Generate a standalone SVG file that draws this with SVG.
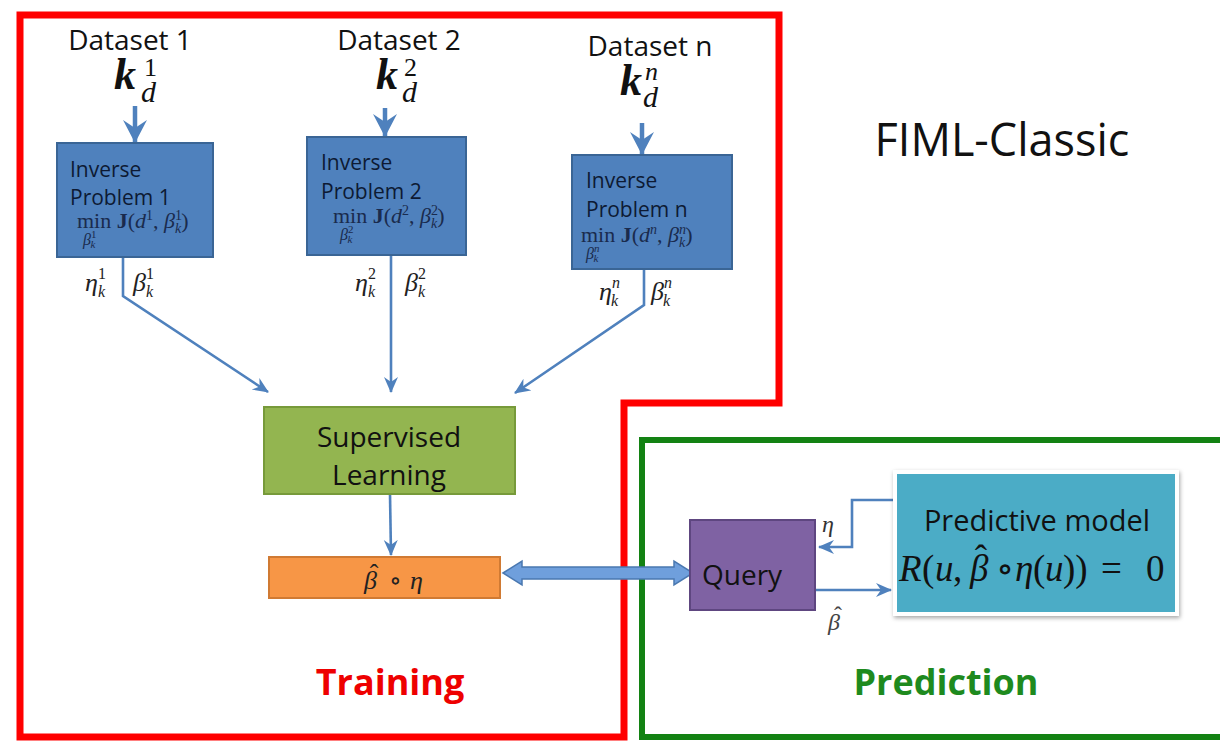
<svg xmlns="http://www.w3.org/2000/svg" width="1220" height="742" viewBox="0 0 1220 742">
<style>
.sans{font-family:"Open Sans",Lato,"Liberation Sans",sans-serif;}
.math{font-family:"Liberation Serif","DejaVu Serif",serif;font-style:italic;}
.mr{font-family:"Liberation Serif","DejaVu Serif",serif;font-style:normal;}
.lbl{font-size:26px;fill:#222;}
.ds{font-size:28px;fill:#111;}
.inv{font-size:21px;fill:#0d1a33;}
.form{font-size:22px;fill:#1a2b4d;}
.conn{fill:none;stroke:#4f81bd;stroke-width:2.6;}
.kin{fill:none;stroke:#4f81bd;stroke-width:4.5;}
.bluebox{fill:#4f81bd;stroke:#3a6595;stroke-width:2;}
.kk{font-size:44px;font-weight:bold;}
</style>
<defs>
<marker id="ah" markerUnits="userSpaceOnUse" markerWidth="18" markerHeight="16" refX="15" refY="8" orient="auto">
<path d="M0,1 L16,8 L0,15 L5,8 z" fill="#4f81bd"/>
</marker>
<marker id="ahk" markerUnits="userSpaceOnUse" markerWidth="26" markerHeight="26" refX="22" refY="13" orient="auto">
<path d="M0,1 L23,13 L0,25 L8,13 z" fill="#4f81bd"/>
</marker>
<filter id="sh" x="-10%" y="-10%" width="120%" height="130%">
<feDropShadow dx="1" dy="2" stdDeviation="2" flood-color="#000" flood-opacity="0.35"/>
</filter>
</defs>
<rect width="1220" height="742" fill="#fff"/>

<g id="training-region">
<path d="M20,15 H779 V403 H624 V737 H20 Z" fill="none" stroke="#ff0000" stroke-width="7"/>
<text class="sans" x="390" y="695" font-size="36" font-weight="bold" fill="#ee0000" text-anchor="middle">Training</text>
</g>
<g id="prediction-region">
<rect x="642" y="440" width="582" height="297" fill="none" stroke="#138213" stroke-width="6"/>
<text class="sans" x="946" y="695" font-size="36" font-weight="bold" fill="#1e8a1e" text-anchor="middle">Prediction</text>
</g>
<g id="title">
<text class="sans" x="1002" y="156" font-size="45" fill="#111" text-anchor="middle">FIML-Classic</text>
</g>

<g id="connectors">
<line class="kin" x1="135" y1="106" x2="135" y2="142" marker-end="url(#ahk)"/>
<line class="kin" x1="385" y1="108" x2="385" y2="136" marker-end="url(#ahk)"/>
<line class="kin" x1="642" y1="123" x2="642" y2="154" marker-end="url(#ahk)"/>
<polyline class="conn" points="123,257 123,296 268,392" marker-end="url(#ah)"/>
<line class="conn" x1="391" y1="255" x2="391" y2="392" marker-end="url(#ah)"/>
<polyline class="conn" points="644,269 644,305 515,393" marker-end="url(#ah)"/>
<line class="conn" x1="390" y1="494" x2="391" y2="555" marker-end="url(#ah)"/>
<polygon points="503,573 522,561 522,567 674,567 674,561 693,573 674,585 674,579 522,579 522,585" fill="#6f9fdc" stroke="#4a78b0" stroke-width="1.5"/>
<polyline class="conn" points="895,500 852,500 852,547 819,547" marker-end="url(#ah)"/>
<line class="conn" x1="815" y1="590" x2="891" y2="590" marker-end="url(#ah)"/>
</g>

<g id="dataset1">
<text class="sans ds" x="130" y="50" text-anchor="middle">Dataset 1</text>
<text fill="#111"><tspan class="math kk" x="114" y="89">k</tspan><tspan class="mr" x="144" y="76" font-size="26">1</tspan><tspan class="math" x="141" y="102" font-size="30">d</tspan></text>
</g>
<g id="dataset2">
<text class="sans ds" x="399" y="50" text-anchor="middle">Dataset 2</text>
<text fill="#111"><tspan class="math kk" x="376" y="89">k</tspan><tspan class="mr" x="404" y="76" font-size="26">2</tspan><tspan class="math" x="402" y="102" font-size="30">d</tspan></text>
</g>
<g id="datasetn">
<text class="sans ds" x="650" y="56" text-anchor="middle">Dataset n</text>
<text fill="#111"><tspan class="math kk" x="620" y="95">k</tspan><tspan class="math" x="645" y="80" font-size="26">n</tspan><tspan class="math" x="643" y="107" font-size="30">d</tspan></text>
</g>

<g id="inverse1">
<rect class="bluebox" x="57" y="143" width="156" height="114"/>
<text class="sans inv" x="70" y="177">Inverse</text>
<text class="sans inv" x="70" y="205">Problem 1</text>
<text class="form" x="77" y="228"><tspan class="mr">min </tspan><tspan class="mr" font-weight="bold">J</tspan><tspan class="mr">(</tspan><tspan class="math">d</tspan><tspan class="mr" font-size="14" dy="-8">1</tspan><tspan class="mr" dy="8">,  </tspan><tspan class="math">β</tspan><tspan class="mr" font-size="14" dy="-8">1</tspan><tspan class="math" font-size="14" dx="-7" dy="13">k</tspan><tspan class="mr" dy="-5">)</tspan><tspan class="math" x="83" y="245" font-size="16">β</tspan><tspan class="mr" font-size="11" dy="-7">1</tspan><tspan class="math" font-size="11" dx="-6" dy="10">k</tspan></text>
<text class="lbl" x="85" y="291"><tspan class="math">η</tspan><tspan class="mr" font-size="16" dy="-12">1</tspan><tspan class="math" font-size="16" dx="-8" dy="18">k</tspan></text>
<text class="lbl" x="133" y="291"><tspan class="math">β</tspan><tspan class="mr" font-size="16" dy="-12">1</tspan><tspan class="math" font-size="16" dx="-8" dy="18">k</tspan></text>
</g>
<g id="inverse2">
<rect class="bluebox" x="307" y="137" width="159" height="118"/>
<text class="sans inv" x="321" y="170">Inverse</text>
<text class="sans inv" x="321" y="199">Problem 2</text>
<text class="form" x="333" y="223"><tspan class="mr">min </tspan><tspan class="mr" font-weight="bold">J</tspan><tspan class="mr">(</tspan><tspan class="math">d</tspan><tspan class="mr" font-size="14" dy="-8">2</tspan><tspan class="mr" dy="8">,  </tspan><tspan class="math">β</tspan><tspan class="mr" font-size="14" dy="-8">2</tspan><tspan class="math" font-size="14" dx="-7" dy="13">k</tspan><tspan class="mr" dy="-5">)</tspan><tspan class="math" x="340" y="240" font-size="16">β</tspan><tspan class="mr" font-size="11" dy="-7">2</tspan><tspan class="math" font-size="11" dx="-6" dy="10">k</tspan></text>
<text class="lbl" x="355" y="291"><tspan class="math">η</tspan><tspan class="mr" font-size="16" dy="-12">2</tspan><tspan class="math" font-size="16" dx="-8" dy="18">k</tspan></text>
<text class="lbl" x="405" y="291"><tspan class="math">β</tspan><tspan class="mr" font-size="16" dy="-12">2</tspan><tspan class="math" font-size="16" dx="-8" dy="18">k</tspan></text>
</g>
<g id="inversen">
<rect class="bluebox" x="572" y="155" width="160" height="114"/>
<text class="sans inv" x="586" y="188">Inverse</text>
<text class="sans inv" x="586" y="217">Problem n</text>
<text class="form" x="581" y="242"><tspan class="mr">min </tspan><tspan class="mr" font-weight="bold">J</tspan><tspan class="mr">(</tspan><tspan class="math">d</tspan><tspan class="math" font-size="14" dy="-8">n</tspan><tspan class="mr" dy="8">,  </tspan><tspan class="math">β</tspan><tspan class="math" font-size="14" dy="-8">n</tspan><tspan class="math" font-size="14" dx="-7" dy="13">k</tspan><tspan class="mr" dy="-5">)</tspan><tspan class="math" x="586" y="259" font-size="16">β</tspan><tspan class="math" font-size="11" dy="-7">n</tspan><tspan class="math" font-size="11" dx="-6" dy="10">k</tspan></text>
<text class="lbl" x="599" y="300"><tspan class="math">η</tspan><tspan class="math" font-size="16" dy="-12">n</tspan><tspan class="math" font-size="16" dx="-9" dy="18">k</tspan></text>
<text class="lbl" x="651" y="300"><tspan class="math">β</tspan><tspan class="math" font-size="16" dy="-12">n</tspan><tspan class="math" font-size="16" dx="-9" dy="18">k</tspan></text>
</g>

<g id="supervised">
<rect x="264" y="407" width="251" height="87" fill="#93b550" stroke="#779a3a" stroke-width="2"/>
<text class="sans" x="389" y="447" font-size="28" fill="#111" text-anchor="middle">Supervised</text>
<text class="sans" x="389" y="485" font-size="28" fill="#111" text-anchor="middle">Learning</text>
</g>
<g id="composite">
<rect x="269" y="557" width="231" height="41" fill="#f79646" stroke="#d07a33" stroke-width="2"/>
<text font-size="26" fill="#222"><tspan class="math" x="364" y="589">β</tspan><tspan class="mr" x="374" y="582" text-anchor="middle">ˆ</tspan><tspan class="mr" x="389" y="589">∘</tspan><tspan class="math" x="410" y="589">η</tspan></text>
</g>
<g id="query">
<rect x="690" y="520" width="125" height="90" fill="#7f62a3" stroke="#5e4680" stroke-width="2"/>
<text class="sans" x="702" y="585" font-size="28" fill="#111">Query</text>
<text class="math" x="822" y="532" font-size="24" fill="#333">η</text>
<text font-size="24" fill="#444"><tspan class="math" x="828" y="630">β</tspan><tspan class="mr" x="838" y="623" text-anchor="middle">ˆ</tspan></text>
</g>
<g id="predictive">
<rect x="893" y="470" width="286" height="146" fill="#fff" filter="url(#sh)"/>
<rect x="897" y="474" width="278" height="138" fill="#4bacc6"/>
<text class="sans" x="1037" y="531" font-size="29" fill="#111" text-anchor="middle">Predictive model</text>
<text y="581" font-size="37" fill="#111"><tspan class="math" x="899">R</tspan><tspan class="mr" x="922">(</tspan><tspan class="math" x="935">u</tspan><tspan class="mr" x="953">,</tspan><tspan class="math" x="970">β</tspan><tspan class="mr" x="981" y="571" text-anchor="middle">ˆ</tspan><tspan class="mr" x="996" y="581">∘</tspan><tspan class="math" x="1015">η</tspan><tspan class="mr" x="1033">(</tspan><tspan class="math" x="1045">u</tspan><tspan class="mr" x="1063">))</tspan><tspan class="mr" x="1101">=</tspan><tspan class="mr" x="1146">0</tspan></text>
</g>
</svg>
